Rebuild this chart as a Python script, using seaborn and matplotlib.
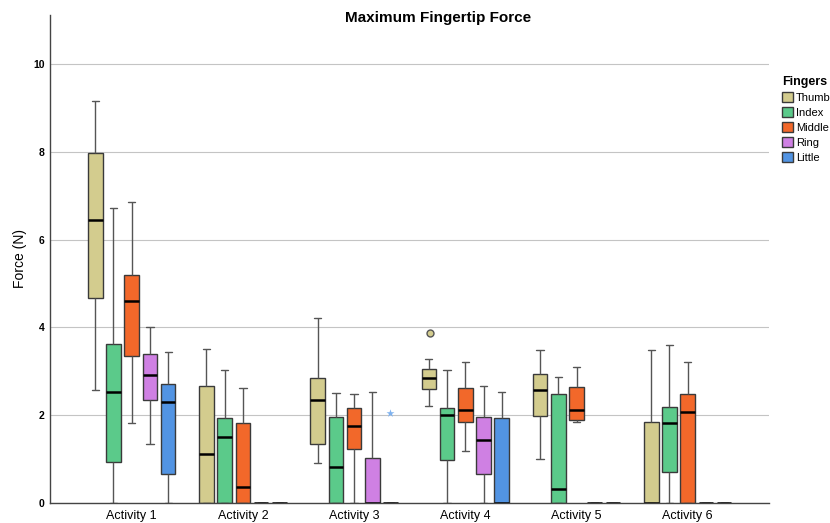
import matplotlib
matplotlib.use("Agg")
import matplotlib.pyplot as plt
import seaborn as sns
import pandas as pd

# five-number summaries per box: [min, Q1, median, Q3, max]
activities = ["Activity 1", "Activity 2", "Activity 3", "Activity 4", "Activity 5", "Activity 6"]
fingers = ["Thumb", "Index", "Middle", "Ring", "Little"]

thumb = [[2.58, 4.67, 6.44, 7.97, 9.15],
         [0.00, 0.00, 1.12, 2.67, 3.50],
         [0.91, 1.34, 2.34, 2.84, 4.21],
         [2.22, 2.60, 2.85, 3.06, 3.29],
         [1.00, 1.98, 2.57, 2.95, 3.49],
         [0.00, 0.00, 0.00, 1.84, 3.49]]
index = [[0.00, 0.93, 2.52, 3.62, 6.72],
         [0.00, 0.00, 1.50, 1.94, 3.04],
         [0.00, 0.00, 0.83, 1.97, 2.51],
         [0.00, 0.99, 2.01, 2.17, 3.04],
         [0.00, 0.00, 0.31, 2.48, 2.86],
         [0.00, 0.71, 1.83, 2.18, 3.61]]
middle = [[1.82, 3.34, 4.61, 5.19, 6.85],
          [0.00, 0.00, 0.36, 1.83, 2.63],
          [0.00, 1.22, 1.76, 2.16, 2.48],
          [1.18, 1.85, 2.13, 2.61, 3.21],
          [1.85, 1.90, 2.11, 2.65, 3.10],
          [0.00, 0.00, 2.07, 2.48, 3.22]]
ring = [[1.35, 2.35, 2.92, 3.39, 4.01],
        [0.00, 0.00, 0.00, 0.00, 0.00],
        [0.00, 0.00, 0.00, 1.02, 2.53],
        [0.00, 0.66, 1.43, 1.97, 2.67],
        [0.00, 0.00, 0.00, 0.00, 0.00],
        [0.00, 0.00, 0.00, 0.00, 0.00]]
little = [[0.00, 0.66, 2.31, 2.71, 3.43],
          [0.00, 0.00, 0.00, 0.00, 0.00],
          [0.00, 0.00, 0.00, 0.00, 0.00],
          [0.00, 0.00, 0.00, 1.93, 2.54],
          [0.00, 0.00, 0.00, 0.00, 0.00],
          [0.00, 0.00, 0.00, 0.00, 0.00]]

# outlier (circle) and extreme (star)
outlier_activity = ["Activity 4"]
outlier_finger = ["Thumb"]
outlier_value = [3.88]
extreme_activity = ["Activity 3"]
extreme_finger = ["Little"]
extreme_value = [2.06]

colors = {"Thumb": "#D3CC8E", "Index": "#5BCA8A", "Middle": "#F2682A",
          "Ring": "#CF80E3", "Little": "#5294E3"}

summaries = {"Thumb": thumb, "Index": index, "Middle": middle, "Ring": ring, "Little": little}
rows = []
for f in fingers:
    for a, vals in zip(activities, summaries[f]):
        for v in vals:
            rows.append({"Activity": a, "Finger": f, "Force": v})
df = pd.DataFrame(rows)

out_df = pd.DataFrame({"Activity": outlier_activity, "Finger": outlier_finger, "Force": outlier_value})
ext_df = pd.DataFrame({"Activity": extreme_activity, "Finger": extreme_finger, "Force": extreme_value})

sns.set_theme(style="white")
plt.rcParams["font.family"] = ["Liberation Sans", "DejaVu Sans"]
plt.rcParams["text.color"] = "black"
plt.rcParams["axes.labelcolor"] = "black"
plt.rcParams["xtick.color"] = "black"
plt.rcParams["ytick.color"] = "black"

fig = plt.figure(figsize=(8.3, 5.23), dpi=100)
ax = fig.add_axes([50 / 830, 20 / 523, 719 / 830, 488 / 523])

sns.boxplot(data=df, x="Activity", y="Force", hue="Finger", order=activities,
            hue_order=fingers, palette=colors, saturation=1, width=0.82, gap=0.2,
            whis=(0, 100), linecolor="#3a3a3a", linewidth=1.0,
            medianprops=dict(color="black", linewidth=1.8),
            whiskerprops=dict(color="#555555", linewidth=1.0),
            capprops=dict(color="#555555", linewidth=1.0),
            ax=ax)

sns.stripplot(data=out_df, x="Activity", y="Force", hue="Finger", order=activities,
              hue_order=fingers, palette=colors, dodge=True, jitter=False,
              marker="o", size=5, edgecolor="#555555", linewidth=1,
              legend=False, ax=ax)
sns.stripplot(data=ext_df, x="Activity", y="Force", hue="Finger", order=activities,
              hue_order=fingers, palette={f: "#7FB2EE" for f in fingers}, dodge=True,
              jitter=False, marker="*", size=6, linewidth=0, legend=False, ax=ax)

ax.set_xlim(-0.735, 5.731)
ax.set_ylim(0, 11.12)
ax.set_yticks([0, 2, 4, 6, 8, 10])
ax.set_yticklabels(["0", "2", "4", "6", "8", "10"], fontsize=7.5, fontweight="bold")
ax.tick_params(axis="both", length=0)
ax.tick_params(axis="y", pad=4)
ax.tick_params(axis="x", pad=5, labelsize=9)
ax.yaxis.grid(True, color="#c4c4c4", linewidth=0.8)
ax.set_axisbelow(True)
ax.set_xlabel("")
ax.set_ylabel("Force (N)", fontsize=10, labelpad=4)

for s in ["top", "right"]:
    ax.spines[s].set_visible(False)
for s in ["left", "bottom"]:
    ax.spines[s].set_color("#444444")
    ax.spines[s].set_linewidth(1.0)

fig.text(438 / 830, 1 - 18 / 523, "Maximum Fingertip Force", ha="center", va="center",
         fontsize=11, fontweight="bold")

handles, labels = ax.get_legend_handles_labels()
ax.legend_.remove()
leg = fig.legend(handles, labels, title="Fingers", loc="upper left",
                 bbox_to_anchor=(782 / 830, 1 - 76 / 523), frameon=False,
                 fontsize=8, title_fontproperties={"weight": "bold", "size": 9},
                 handlelength=1.0, handleheight=1.0, handletextpad=0.25,
                 labelspacing=0.38, borderpad=0, borderaxespad=0)
leg._legend_box.align = "left"

fig.savefig("out.png", dpi=100)
